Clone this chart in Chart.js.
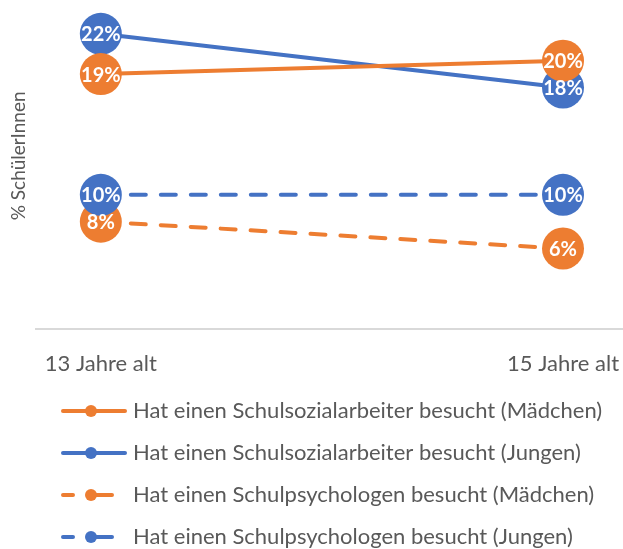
<!DOCTYPE html>
<html>
<head>
<meta charset="utf-8">
<script src="https://cdn.jsdelivr.net/npm/chart.js@4.4.1/dist/chart.umd.min.js"></script>
<style>
html, body { margin: 0; padding: 0; background: #fff; overflow: hidden; }
#wrap { width: 623px; height: 558px; }
</style>
</head>
<body>
<div id="wrap"><canvas id="chart"></canvas></div>
<script>
// categories (x axis)
const ageLabels = ["13 Jahre alt", "15 Jahre alt"];

// series names, same order as the legend
const seriesNames = [
    "Hat einen Schulsozialarbeiter besucht (Mädchen)",
    "Hat einen Schulsozialarbeiter besucht (Jungen)",
    "Hat einen Schulpsychologen besucht (Mädchen)",
    "Hat einen Schulpsychologen besucht (Jungen)"
];

// values in percent
const sozialMaedchen = [19, 20];
const sozialJungen = [22, 18];
const psychMaedchen = [8, 6];
const psychJungen = [10, 10];

const orange = "#ED7D31";
const blue = "#4472C4";
const grey = "#595959";

// turn a value list into {x, y} points on the numeric x axis
function toPoints(values) {
    return values.map((v, i) => ({ x: i, y: v }));
}

// legend symbol: line with a dot, dashed or solid
function makeSymbol(color, dashed) {
    const c = document.createElement("canvas");
    c.width = 112;
    c.height = 20;
    const g = c.getContext("2d");
    g.strokeStyle = color;
    g.fillStyle = color;
    g.lineWidth = 4;
    g.lineCap = "round";
    g.beginPath();
    if (dashed) {
        g.moveTo(48, 10); g.lineTo(58, 10);
        g.moveTo(80, 10); g.lineTo(97, 10);
    } else {
        g.moveTo(48, 10); g.lineTo(110, 10);
    }
    g.stroke();
    g.beginPath();
    g.arc(76, 10, 6, 0, Math.PI * 2);
    g.fill();
    return c;
}

function makeDataset(i, values, color, dashed) {
    return {
        label: seriesNames[i],
        data: toPoints(values),
        borderColor: color,
        backgroundColor: color,
        borderWidth: 4,
        borderDash: dashed ? [15, 15] : [],
        borderCapStyle: "round",
        pointRadius: 21,
        pointHoverRadius: 21,
        pointBorderWidth: 0,
        pointBackgroundColor: color,
        symbol: makeSymbol(color, dashed)
    };
}

const datasets = [
    makeDataset(0, sozialMaedchen, orange, false),
    makeDataset(1, sozialJungen, blue, false),
    makeDataset(2, psychMaedchen, orange, true),
    makeDataset(3, psychJungen, blue, true)
];
datasets[3].order = -1; // blue dashed markers sit above the orange ones

// white percent labels inside the markers
const valueLabels = {
    id: "valueLabels",
    afterDatasetsDraw(chart) {
        const ctx = chart.ctx;
        ctx.save();
        ctx.font = "bold 20px Lato";
        ctx.fillStyle = "#fff";
        ctx.textAlign = "center";
        ctx.textBaseline = "middle";
        chart.data.datasets.forEach((ds, i) => {
            chart.getDatasetMeta(i).data.forEach((pt, j) => {
                ctx.fillText(ds.data[j].y + "%", pt.x, pt.y + 1);
            });
        });
        ctx.restore();
    }
};

new Chart(document.getElementById("chart"), {
    type: "line",
    data: { datasets: datasets },
    options: {
        responsive: true,
        maintainAspectRatio: false,
        animation: false,
        layout: { autoPadding: false, padding: { top: 7, left: 0, right: 0, bottom: 0 } },
        scales: {
            x: {
                type: "linear",
                min: -0.1407,
                max: 1.1298,
                afterBuildTicks: (scale) => {
                    scale.ticks = ageLabels.map((l, i) => ({ value: i }));
                },
                afterFit: (scale) => {
                    scale.height = 51;
                    scale.paddingLeft = 0;
                    scale.paddingRight = 0;
                },
                ticks: {
                    callback: (value) => ageLabels[value],
                    color: grey,
                    font: { family: "Lato", size: 22 },
                    padding: 22,
                    maxRotation: 0
                },
                grid: { display: false, drawTicks: false },
                border: { display: true, color: "#D9D9D9", width: 2 }
            },
            y: {
                min: 0,
                max: 24,
                ticks: { display: false },
                grid: { display: false, drawTicks: false },
                border: { display: false },
                title: {
                    display: true,
                    text: "     % SchülerInnen",
                    color: grey,
                    font: { family: "Lato", size: 19 },
                    padding: { top: 7, bottom: 6 }
                }
            }
        },
        plugins: {
            tooltip: { enabled: false },
            legend: {
                position: "bottom",
                align: "start",
                labels: {
                    usePointStyle: true,
                    pointStyleWidth: 102,
                    padding: 20,
                    color: grey,
                    font: { family: "Lato", size: 22 },
                    generateLabels: (chart) => chart.data.datasets.map((ds, i) => ({
                        text: ds.label,
                        fillStyle: ds.borderColor,
                        strokeStyle: ds.borderColor,
                        fontColor: grey,
                        pointStyle: ds.symbol,
                        lineWidth: 0,
                        hidden: !chart.isDatasetVisible(i),
                        datasetIndex: i
                    }))
                }
            }
        }
    },
    plugins: [valueLabels]
});
</script>
</body>
</html>
